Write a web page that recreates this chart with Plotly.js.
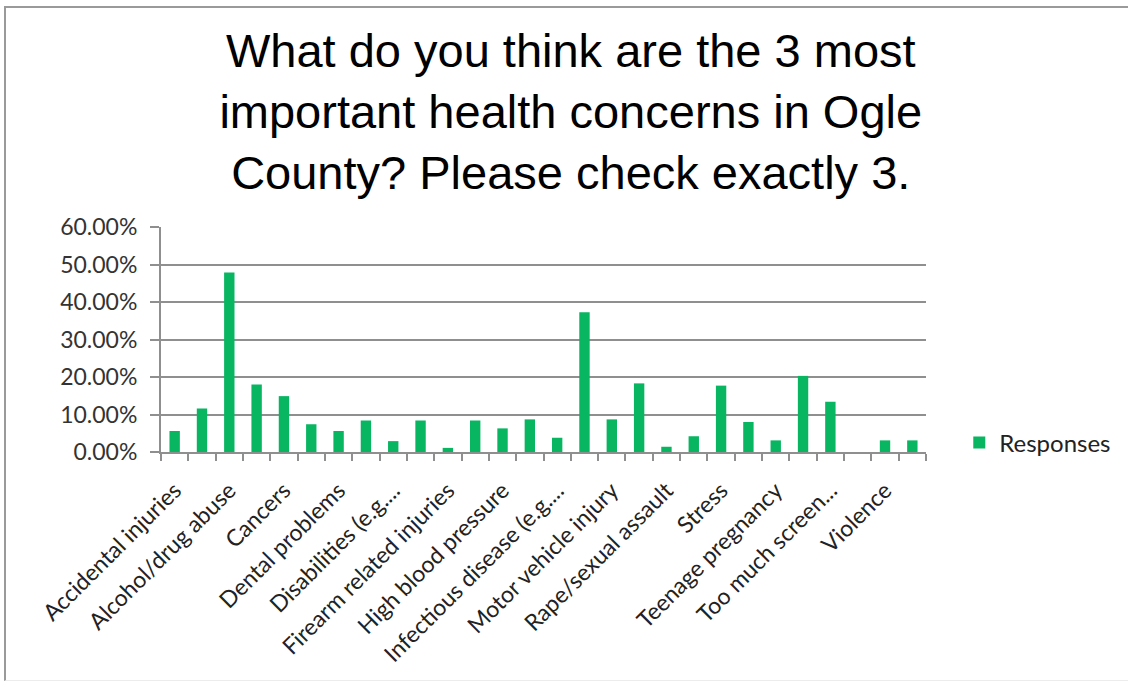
<!DOCTYPE html>
<html>
<head>
<meta charset="utf-8">
<script src="https://cdn.plot.ly/plotly-3.0.1.min.js"></script>
<style>
  html, body { margin: 0; padding: 0; background: #ffffff; overflow: hidden; width: 1128px; height: 681px; }
  #chart { position: absolute; left: 0; top: 0; width: 1128px; height: 681px; }
  #frame { position: absolute; left: 4px; top: 6px; width: 1300px; height: 672px;
           border-left: 2px solid #9a9a9a; border-top: 2px solid #9a9a9a; border-bottom: 1px solid #ececec;
           pointer-events: none; }
</style>
</head>
<body>
<div id="chart"></div>
<div id="frame"></div>
<script>
// Categories (every other label is hidden in the original chart)
const categories = [
  "Accidental injuries", "Aging problems", "Alcohol/drug abuse", "Being overweight",
  "Cancers", "Child abuse/neglect", "Dental problems", "Diabetes",
  "Disabilities (e.g....", "Domestic violence", "Firearm related injuries", "Heart disease and stroke",
  "High blood pressure", "HIV/AIDS", "Infectious disease (e.g....", "Mental health problems",
  "Motor vehicle injury", "Obesity", "Rape/sexual assault", "Respiratory/lung disease",
  "Stress", "Suicide", "Teenage pregnancy", "Tobacco use",
  "Too much screen...", "Unintentional drowning", "Violence", "Other"
];
const tickLabels = [
  "Accidental injuries", "", "Alcohol/drug abuse", "",
  "Cancers", "", "Dental problems", "",
  "Disabilities (e.g....", "", "Firearm related injuries", "",
  "High blood pressure", "", "Infectious disease (e.g....", "",
  "Motor vehicle injury", "", "Rape/sexual assault", "",
  "Stress", "", "Teenage pregnancy", "",
  "Too much screen...", "", "Violence", ""
];
const responses = [
  0.056, 0.116, 0.479, 0.180,
  0.149, 0.074, 0.056, 0.084,
  0.029, 0.084, 0.011, 0.084,
  0.063, 0.087, 0.038, 0.373,
  0.087, 0.183, 0.014, 0.042,
  0.177, 0.080, 0.031, 0.203,
  0.134, 0.000, 0.031, 0.031
];
const seriesName = "Responses";

const trace = {
  type: "bar",
  x: categories,
  y: responses,
  name: seriesName,
  marker: { color: "#08b560" },
  hoverinfo: "x+y"
};

const gridColor = "#8f8f8f";
const fontFam = "Lato, 'Open Sans', sans-serif";

const layout = {
  width: 1128,
  height: 681,
  paper_bgcolor: "rgba(0,0,0,0)",
  plot_bgcolor: "#ffffff",
  margin: { l: 161, r: 198, t: 227, b: 229, pad: 0 },
  title: {
    text: "What do you think are the 3 most<br>important health concerns in Ogle<br>County? Please check exactly 3.",
    font: { family: "'Liberation Sans', Arial, sans-serif", size: 47, color: "#000000" },
    x: 0.506, xanchor: "center",
    y: 1 - 67 / 681, yanchor: "middle", yref: "container"
  },
  showlegend: true,
  legend: {
    x: 1.0435, xanchor: "left",
    y: 0.04, yanchor: "middle",
    font: { family: fontFam, size: 24, color: "#222222" },
    bgcolor: "rgba(0,0,0,0)"
  },
  bargap: 0.62,
  xaxis: {
    type: "category",
    tickmode: "array",
    tickvals: categories,
    ticktext: tickLabels,
    tickangle: -45,
    tickson: "boundaries",
    ticks: "outside",
    ticklen: 7,
    tickwidth: 2,
    tickcolor: gridColor,
    showline: true,
    linecolor: gridColor,
    linewidth: 2,
    showgrid: false,
    ticklabelstandoff: 14,
    tickfont: { family: fontFam, size: 23, color: "#222222" },
    fixedrange: true
  },
  yaxis: {
    range: [0, 0.6],
    dtick: 0.1,
    tick0: 0,
    tickformat: ".2%",
    ticks: "outside",
    ticklen: 9,
    tickwidth: 2,
    tickcolor: gridColor,
    showline: true,
    linecolor: gridColor,
    linewidth: 2,
    showgrid: true,
    gridcolor: gridColor,
    gridwidth: 2,
    zeroline: false,
    ticklabelstandoff: 8,
    tickfont: { family: fontFam, size: 23, color: "#333333" },
    fixedrange: true
  }
};

Plotly.newPlot("chart", [trace], layout, { displayModeBar: false, staticPlot: true });
</script>
</body>
</html>
